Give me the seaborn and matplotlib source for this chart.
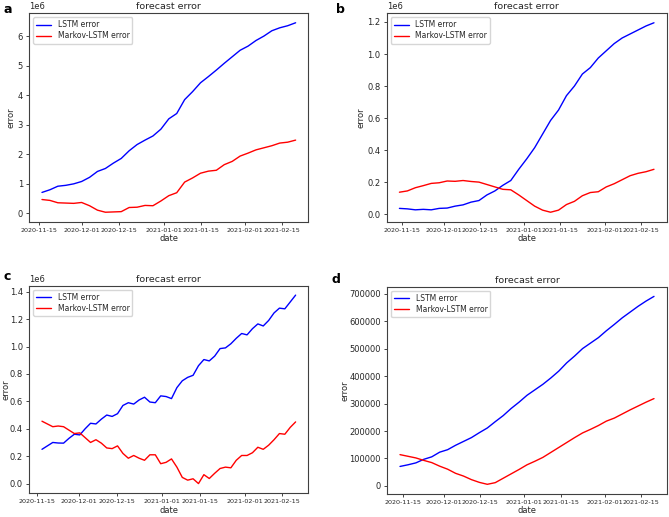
import numpy as np
import pandas as pd
import matplotlib
matplotlib.use("Agg")
import matplotlib.pyplot as plt
import matplotlib.dates as mdates
import seaborn as sns

# panel a (values in 1e6)
a_start, a_end = "2020-11-16", "2021-02-20"
a_lstm = [0.71, 0.80, 0.92, 0.95, 1.00, 1.08, 1.22, 1.42, 1.52, 1.70, 1.86,
          2.12, 2.33, 2.48, 2.62, 2.85, 3.20, 3.38, 3.85, 4.12, 4.42, 4.63,
          4.85, 5.08, 5.30, 5.52, 5.66, 5.85, 6.00, 6.18, 6.28, 6.35, 6.45]
a_markov = [0.47, 0.44, 0.36, 0.35, 0.34, 0.37, 0.26, 0.11, 0.04, 0.05, 0.06,
            0.20, 0.21, 0.27, 0.26, 0.42, 0.60, 0.70, 1.06, 1.20, 1.36, 1.43,
            1.46, 1.65, 1.76, 1.94, 2.04, 2.15, 2.22, 2.29, 2.38, 2.41, 2.48]

# panel b (values in 1e6)
b_start, b_end = "2020-11-14", "2021-02-20"
b_lstm = [0.036, 0.033, 0.027, 0.030, 0.027, 0.036, 0.038, 0.050, 0.058, 0.075,
          0.085, 0.120, 0.145, 0.180, 0.210, 0.280, 0.345, 0.415, 0.500, 0.585,
          0.650, 0.740, 0.800, 0.875, 0.915, 0.975, 1.020, 1.065, 1.100, 1.125,
          1.150, 1.175, 1.195]
b_markov = [0.137, 0.145, 0.165, 0.178, 0.192, 0.196, 0.207, 0.205, 0.210, 0.204,
            0.200, 0.185, 0.170, 0.155, 0.152, 0.120, 0.085, 0.050, 0.025, 0.012,
            0.025, 0.060, 0.080, 0.115, 0.135, 0.140, 0.170, 0.190, 0.215, 0.240,
            0.255, 0.265, 0.280]

# panel c (values in 1e6)
c_start, c_end = "2020-11-17", "2021-02-20"
c_lstm = [0.250, 0.275, 0.300, 0.296, 0.295, 0.330, 0.360, 0.355, 0.400, 0.440,
          0.435, 0.470, 0.500, 0.490, 0.510, 0.570, 0.590, 0.580, 0.610, 0.630,
          0.595, 0.590, 0.640, 0.635, 0.620, 0.700, 0.750, 0.775, 0.790, 0.860,
          0.905, 0.895, 0.930, 0.985, 0.990, 1.020, 1.060, 1.095, 1.085, 1.130,
          1.165, 1.150, 1.190, 1.245, 1.280, 1.275, 1.325, 1.375]
c_markov = [0.455, 0.435, 0.415, 0.420, 0.415, 0.390, 0.365, 0.370, 0.335, 0.300,
            0.320, 0.295, 0.260, 0.255, 0.275, 0.220, 0.185, 0.205, 0.185, 0.170,
            0.210, 0.210, 0.145, 0.155, 0.180, 0.120, 0.045, 0.025, 0.035, 0.000,
            0.065, 0.037, 0.075, 0.110, 0.120, 0.115, 0.170, 0.205, 0.205, 0.225,
            0.265, 0.250, 0.280, 0.320, 0.365, 0.360, 0.410, 0.450]

# panel d (values in thousands)
d_start, d_end = "2020-11-14", "2021-02-20"
d_lstm = [71, 77, 84, 97, 106, 123, 132, 148, 162, 176, 194, 211, 234, 256, 282,
          305, 330, 350, 370, 393, 418, 448, 473, 500, 520, 540, 565, 588, 612,
          633, 654, 673, 690]
d_markov = [114, 108, 102, 93, 85, 72, 61, 46, 36, 23, 13, 6, 12, 28, 44, 60,
            77, 90, 104, 122, 140, 158, 176, 193, 206, 220, 236, 247, 262, 277,
            291, 305, 318]

sns.set_theme(style="ticks")
plt.rcParams.update({
    "font.family": ["DejaVu Sans"],
    "axes.edgecolor": "0.25",
    "axes.linewidth": 0.8,
    "xtick.color": "0.15",
    "ytick.color": "0.15",
    "xtick.major.size": 2.5,
    "ytick.major.size": 2.5,
    "xtick.major.width": 0.6,
    "ytick.major.width": 0.6,
    "xtick.major.pad": 2,
    "ytick.major.pad": 2,
})

fig = plt.figure(figsize=(6.69, 5.17), dpi=100)
W, H = 669, 517


def panel(left, top, right, bottom):
    return fig.add_axes([left / W, 1 - bottom / H, (right - left) / W, (bottom - top) / H])


def draw(ax, letter, letter_xy, ylab_x, start, end, lstm, markov, scale):
    dates = pd.date_range(start, end, periods=len(lstm))
    sns.lineplot(x=dates, y=np.array(lstm) * scale, ax=ax, color="blue",
                 lw=1, label="LSTM error")
    sns.lineplot(x=dates, y=np.array(markov) * scale, ax=ax, color="red",
                 lw=1, label="Markov-LSTM error")
    ax.xaxis.set_major_locator(mdates.DayLocator(bymonthday=[1, 15]))
    ax.xaxis.set_major_formatter(mdates.DateFormatter("%Y-%m-%d"))
    ax.tick_params(axis="x", labelsize=4.6)
    ax.tick_params(axis="y", labelsize=6.0)
    ax.yaxis.get_offset_text().set_fontsize(6.0)
    ax.set_title("forecast error", fontsize=6.8, pad=3)
    ax.set_xlabel("date", fontsize=6, labelpad=1)
    ax.set_ylabel("error", fontsize=6)
    ax.yaxis.set_label_coords(ylab_x, 0.5)
    ax.legend(loc="upper left", fontsize=5.5, frameon=True, fancybox=True,
              handlelength=2.0, borderpad=0.4, labelspacing=0.3)
    fig.text(letter_xy[0] / W, 1 - letter_xy[1] / H, letter, fontsize=9,
             fontweight="bold", va="top", ha="left", color="black")


ax_a = panel(29.3, 13.3, 308.3, 221.7)
ax_b = panel(386.7, 13.3, 666.7, 221.7)
ax_c = panel(29.3, 285.7, 308.3, 493.0)
ax_d = panel(387.3, 287.0, 666.7, 493.7)

draw(ax_a, "a", (4, 3), -0.05, a_start, a_end, a_lstm, a_markov, 1e6)
draw(ax_b, "b", (336, 3), -0.076, b_start, b_end, b_lstm, b_markov, 1e6)
draw(ax_c, "c", (3, 270), -0.068, c_start, c_end, c_lstm, c_markov, 1e6)
draw(ax_d, "d", (332, 273), -0.136, d_start, d_end, d_lstm, d_markov, 1e3)

fig.savefig("out.png", dpi=100)
